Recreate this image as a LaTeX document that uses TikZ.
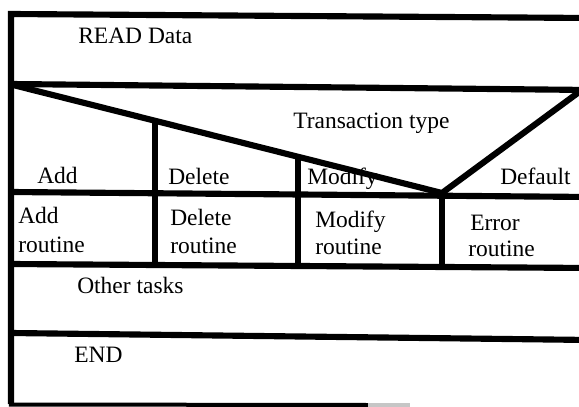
\documentclass[tikz,border=0pt]{standalone}
\usepackage{fontspec}
\setmainfont{Liberation Serif}
\begin{document}
\begin{tikzpicture}[x=0.75pt,y=-0.75pt,
  rule/.style={line width=4.6pt,black,line join=miter},
  lbl/.style={anchor=base west,inner sep=0pt,font=\fontsize{17.6}{21}\selectfont}]
\useasboundingbox (0,0) rectangle (579,407);
\clip (0,0) rectangle (579,407);
% frame and rows
\draw[rule] (11,404) -- (11,14) -- (590,18);
\draw[rule] (11,84) -- (590,90);
\draw[rule] (11,192) -- (590,197);
\draw[rule] (11,264) -- (590,268);
\draw[rule] (11,333) -- (590,340);
\draw[line width=3pt,black] (9,404.5) -- (368,405);
\draw[line width=3pt,gray!45] (368,405) -- (410,405);
% case triangle
\coordinate (v) at (442,193);
\draw[rule] (13,85) -- (v) -- (590,84);
% column dividers
\draw[rule] (155,121) -- (155,265);
\draw[rule] (298,157) -- (298,266);
\draw[rule] (442,193) -- (442,267);
% texts
\node[lbl] (read) at (78,43) {READ Data};
\node[lbl] (ttype) at (293,128) {Transaction type};
\node[lbl] (add) at (37,183) {Add};
\node[lbl] (del) at (168,184) {Delete};
\node[lbl] (mod) at (307,184) {Modify};
\node[lbl] (def) at (500,184) {Default};
\node[lbl] (addr1) at (18,223) {Add};
\node[lbl] (addr2) at (18,252) {routine};
\node[lbl] (delr1) at (170,225) {Delete};
\node[lbl] (delr2) at (170,253) {routine};
\node[lbl] (modr1) at (315,227) {Modify};
\node[lbl] (modr2) at (315,254) {routine};
\node[lbl] (err1) at (470,230) {Error};
\node[lbl] (err2) at (468,256) {routine};
\node[lbl] (other) at (77,293) {Other tasks};
\node[lbl] (endn) at (74,362) {END};
\end{tikzpicture}
\end{document}
